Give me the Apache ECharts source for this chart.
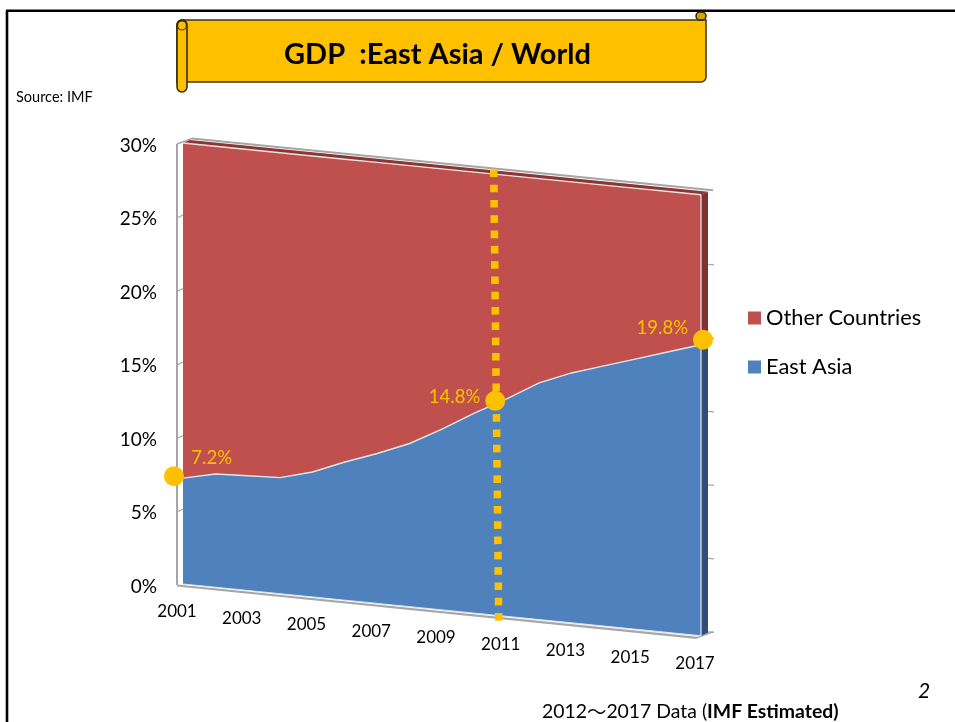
<!DOCTYPE html>
<html><head><meta charset="utf-8">
<style>html,body{margin:0;padding:0;background:#fff}#c{width:955px;height:722px}</style>
<script src="https://cdn.jsdelivr.net/npm/echarts@6/dist/echarts.min.js"></script>
</head><body><div id="c"></div>
<script>
const years = [2001,2002,2003,2004,2005,2006,2007,2008,2009,2010,2011,2012,2013,2014,2015,2016,2017];
const eastAsia = [7.2,7.7,7.8,7.9,8.5,9.4,10.2,11.1,12.3,13.6,14.8,16.1,17.0,17.7,18.4,19.1,19.8];
const otherCountries = [22.8,22.3,22.2,22.1,21.5,20.6,19.8,18.9,17.7,16.4,15.2,13.9,13.0,12.3,11.6,10.9,10.2];
const tickYears = [2001,2003,2005,2007,2009,2011,2013,2015,2017];
const yTicks = [0,5,10,15,20,25,30];
const callouts = [[2001,7.2,'7.2%'],[2011,14.8,'14.8%'],[2017,19.8,'19.8%']];

const SHEAR = 0.1, DX = 7, DY = -3;
const FONT = 'Lato, Carlito, "Noto Sans", sans-serif';
const ORANGE = '#ffc000', RED = '#c0504d', BLUE = '#4f81bd', GRAY = '#a6a6a6';

function proj(api, year, v) {
  const p = api.coord([year, v]);
  const x0 = api.coord([years[0], 0])[0];
  return [p[0], p[1] + (p[0] - x0) * SHEAR];
}
function bandItem(lower, upper, color, darkColor, lineOnTop) {
  return function (params, api) {
    if (params.dataIndex !== 0) return null;
    const top = years.map((y, i) => proj(api, y, upper[i]));
    const bot = years.map((y, i) => proj(api, y, lower[i]));
    const n = years.length - 1;
    const pts = top.concat(bot.slice().reverse());
    const kids = [
      {type:'polygon', shape:{points:[top[n],[top[n][0]+DX,top[n][1]+DY],[bot[n][0]+DX,bot[n][1]+DY],bot[n]]}, style:{fill:darkColor}},
      {type:'polygon', shape:{points:pts}, style:{fill:color}},
      {type:'polyline', shape:{points:top}, style:{stroke:'#e6e6e6', lineWidth:1.4, fill:null}},
      {type:'line', shape:{x1:top[n][0],y1:top[n][1],x2:bot[n][0],y2:bot[n][1]}, style:{stroke:'rgba(235,235,240,0.75)', lineWidth:1.6}}
    ];
    if (lineOnTop) {
      kids.unshift({type:'polygon', shape:{points:[top[0],top[n],[top[n][0]+DX,top[n][1]+DY],[top[0][0]+DX,top[0][1]+DY]]}, style:{fill:'#8c3533'}});
    } else {
      kids.push({type:'polyline', shape:{points:[bot[0],bot[n]]}, style:{stroke:'#dfe3ea', lineWidth:1.2, fill:null}});
    }
    return {type:'group', children:kids};
  };
}
function wallsItem(params, api) {
  if (params.dataIndex !== 0) return null;
  const a = years[0], b = years[years.length-1];
  const kids = [];
  const line = (p, q, w) => kids.push({type:'line', shape:{x1:p[0],y1:p[1],x2:q[0],y2:q[1]}, style:{stroke:GRAY, lineWidth:w}});
  const tl = proj(api,a,30), bl = proj(api,a,0), tr = proj(api,b,30), br = proj(api,b,0);
  line([tl[0]-6,tl[1]+1],[tl[0]-6,bl[1]+1],2);
  line([tl[0]-6,tl[1]+1],[tl[0]+9,tl[1]-4.5],1.6);
  line([tl[0]+9,tl[1]-4.5],[tr[0]+12,tr[1]-4.5],2);
  line([bl[0]-6,bl[1]+1.5],[br[0]-4,br[1]+2],2.2);
  line([br[0]-4,br[1]+2],[br[0]+12,br[1]-4],1.6);
  yTicks.forEach(v => {
    const l = proj(api,a,v), r = proj(api,b,v);
    if (v > 0 && v < 30) line([l[0]-6,l[1]+1.5],[l[0],l[1]-1.5],1.2);
    if (v < 30) line([r[0]+DX,r[1]-4],[r[0]+13,r[1]-3.5],1.2);
  });
  return {type:'group', children:kids};
}
function tickLabelItem(params, api) {
  const p = proj(api, api.value(0), 0);
  return {type:'text', style:{x:p[0]-6, y:p[1]+28, text:String(api.value(0)), textAlign:'center', textVerticalAlign:'middle', fill:'#000', font:'17px '+FONT}};
}
function calloutItem(params, api) {
  const i = params.dataIndex;
  const c = callouts[i];
  const p = proj(api, c[0], c[1]);
  const mx = [-9,-11.5,2][i], my = [-2,2,-5][i];
  const tx = [58,-15,-15][i], ty = [-18,-3.5,-12][i];
  return {type:'group', children:[
    {type:'circle', shape:{cx:p[0]+mx, cy:p[1]+my, r:10}, style:{fill:ORANGE}},
    {type:'text', style:{x:p[0]+mx+tx, y:p[1]+my+ty, text:c[2], textAlign:'right', textVerticalAlign:'middle', fill:ORANGE, font:'18.5px '+FONT}}
  ]};
}
function guideItem(params, api) {
  if (params.dataIndex !== 0) return null;
  const y = callouts[1][0];
  const t = proj(api,y,30), b = proj(api,y,0);
  return {type:'line', shape:{x1:t[0]-13,y1:t[1]-6,x2:t[0]-8,y2:b[1]+4.5}, style:{stroke:ORANGE, lineWidth:7.5, lineDash:[7.6,7.7]}};
}
const xy = years.map(y => [y, 0]);
const stackTop = eastAsia.map((v,i) => v + otherCountries[i]);
const zeros = years.map(() => 0);

const option = {
  animation:false,
  backgroundColor:'#fff',
  title:{text:'GDP  :East Asia / World', left:432.5, top:35, textAlign:'center', z:20,
    textStyle:{fontFamily:FONT, fontSize:29, fontWeight:'bold', color:'#000'}},
  legend:{orient:'vertical', left:743, top:302, itemWidth:13, itemHeight:13, itemGap:27, icon:'rect', itemStyle:{borderWidth:0},
    data:['Other Countries','East Asia'],
    textStyle:{fontFamily:FONT, fontSize:21.8, color:'#000'}},
  grid:{left:183, top:143, width:518, height:441, containLabel:false},
  xAxis:{type:'value', min:2001, max:2017, interval:2, axisLabel:{show:false}, axisLine:{show:false}, axisTick:{show:false}, splitLine:{show:false}},
  yAxis:{type:'value', min:0, max:30, interval:5, axisLine:{show:false}, axisTick:{show:false}, splitLine:{show:false},
    axisLabel:{formatter:'{value}%', margin:26, fontFamily:FONT, fontSize:19, color:'#000', verticalAlign:'top', lineHeight:5}},
  graphic:[
    {type:'line', z:1, shape:{x1:7,y1:722,x2:7,y2:10.5}, style:{stroke:'#000', lineWidth:2.6}},
    {type:'line', z:1, shape:{x1:6,y1:10.7,x2:955,y2:10.7}, style:{stroke:'#000', lineWidth:2.6}},
    {type:'rect', z:2, shape:{x:177,y:20,width:529,height:62,r:[5,0,5,0]}, style:{fill:ORANGE, stroke:'#3f3310', lineWidth:1.5}},
    {type:'rect', z:3, shape:{x:177,y:20,width:10,height:72,r:5}, style:{fill:ORANGE, stroke:'#2b2208', lineWidth:1.5}},
    {type:'circle', z:4, shape:{cx:182,cy:25.5,r:4.5}, style:{fill:ORANGE, stroke:'#2b2208', lineWidth:1.2}},
    {type:'rect', z:3, shape:{x:696,y:12,width:10,height:8,r:4}, style:{fill:'#d9a300', stroke:'#2b2208', lineWidth:1.5}},
    {type:'text', z:5, style:{x:16,y:97,text:'Source: IMF',fill:'#000',font:'14.5px '+FONT,textVerticalAlign:'middle'}},
    {type:'text', z:5, style:{x:924,y:691,text:'2',fill:'#000',font:'italic 21px '+FONT,textAlign:'center',textVerticalAlign:'middle'}},
    {type:'text', z:5, style:{x:542,y:712,
      text:'{n|2012}{w|〜}{n|2017 Data (}{b|IMF Estimated}{b|)}',
      textVerticalAlign:'middle',
      rich:{n:{fontFamily:FONT,fontSize:19.4,fill:'#000'},w:{fontFamily:'"Noto Sans CJK JP"',fontSize:19.4,fill:'#000'},b:{fontFamily:FONT,fontSize:19.4,fontWeight:'bold',fill:'#000'}}}}
  ],
  series:[
    {type:'custom', name:'walls', data:xy, renderItem:wallsItem, silent:true, z:1},
    {type:'custom', name:'Other Countries', itemStyle:{color:RED}, data:years.map((y,i)=>[y,stackTop[i]]), renderItem:bandItem(eastAsia,stackTop,RED,'#7f3230',true), z:2},
    {type:'custom', name:'East Asia', itemStyle:{color:BLUE}, data:years.map((y,i)=>[y,eastAsia[i]]), renderItem:bandItem(zeros,eastAsia,BLUE,'#2f4d75',false), z:3},
    {type:'custom', name:'tick labels', data:tickYears.map(y=>[y,0]), renderItem:tickLabelItem, silent:true, z:4},
    {type:'custom', name:'guide', data:xy.slice(0,1), renderItem:guideItem, silent:true, z:5},
    {type:'custom', name:'callouts', data:callouts.map(c=>[c[0],c[1]]), renderItem:calloutItem, silent:true, z:6}
  ]
};
echarts.init(document.getElementById('c')).setOption(option);
</script></body></html>
